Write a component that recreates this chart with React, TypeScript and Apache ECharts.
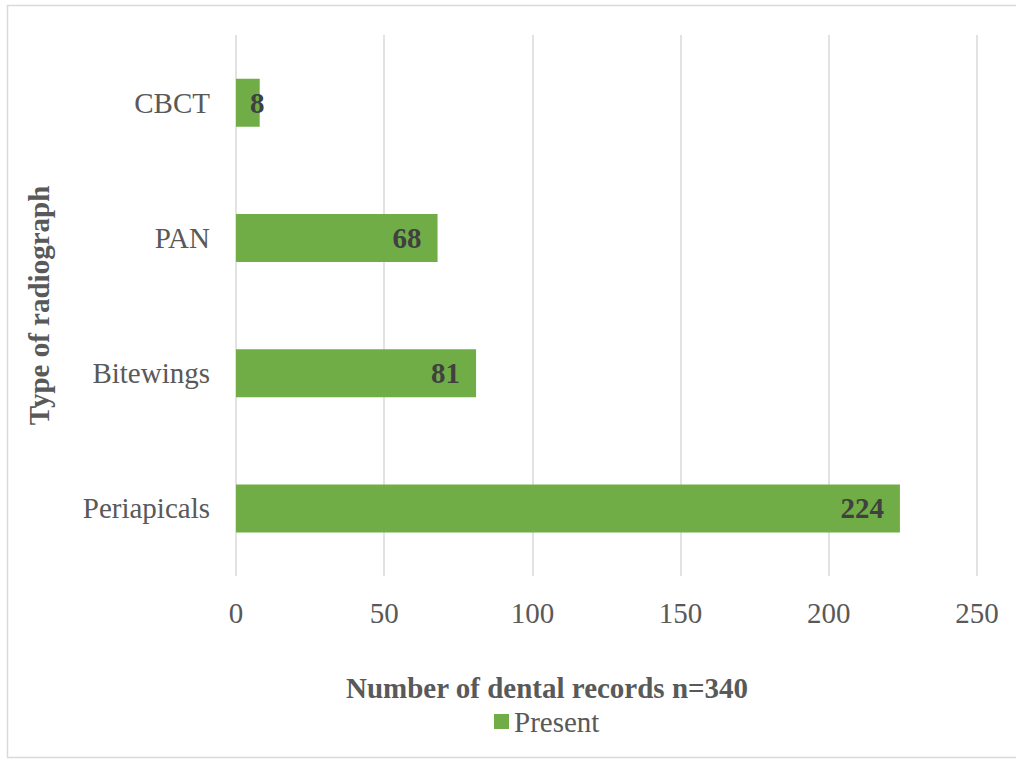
import React, { useEffect, useRef } from "react";
import * as echarts from "echarts";

const categories = ["Periapicals", "Bitewings", "PAN", "CBCT"];
const presentValues = [224, 81, 68, 8];
const xTicks = { min: 0, max: 250, interval: 50 };
const seriesName = "Present";
const xTitle = "Number of dental records n=340";
const yTitle = "Type of radiograph";

const FONT = "'Liberation Serif', 'Times New Roman', serif";

export default function App() {
  const ref = useRef<HTMLDivElement>(null);
  useEffect(() => {
    if (!ref.current) return;
    const chart = echarts.init(ref.current, null, { renderer: "svg" });
    chart.setOption({
      animation: false,
      backgroundColor: "#ffffff",
      textStyle: { fontFamily: FONT },
      graphic: [
        {
          type: "rect",
          shape: { x: 7.5, y: 5.5, width: 1040, height: 752 },
          style: { fill: "none", stroke: "#d9d9d9", lineWidth: 1.5 },
          silent: true,
        },
        {
          type: "text",
          x: 547,
          y: 688,
          style: {
            text: xTitle,
            fontFamily: FONT,
            fontSize: 29,
            fontWeight: "bold",
            fill: "#595959",
            align: "center",
            verticalAlign: "middle",
          },
          silent: true,
        },
      ],
      grid: { left: 236, right: 39, top: 35, bottom: 187, containLabel: false },
      legend: {
        bottom: 22,
        left: 489,
        itemWidth: 15,
        itemHeight: 15,
        itemGap: 6,
        icon: "rect",
        textStyle: { fontFamily: FONT, fontSize: 29, color: "#595959" },
        data: [seriesName],
      },
      xAxis: {
        type: "value",
        min: xTicks.min,
        max: xTicks.max,
        interval: xTicks.interval,
        axisLine: { show: false },
        axisTick: { show: false },
        axisLabel: { fontFamily: FONT, fontSize: 29, color: "#595959", margin: 22 },
        splitLine: { show: true, lineStyle: { color: "#d9d9d9", width: 1.5 } },
      },
      yAxis: {
        type: "category",
        data: categories,
        name: yTitle,
        nameLocation: "middle",
        nameGap: 183,
        nameRotate: 90,
        nameTextStyle: { fontFamily: FONT, fontSize: 29, fontWeight: "bold", color: "#595959" },
        axisLine: { show: false },
        axisTick: { show: false },
        axisLabel: { fontFamily: FONT, fontSize: 29, color: "#595959", margin: 26 },
        splitLine: { show: false },
      },
      series: [
        {
          name: seriesName,
          type: "bar",
          barWidth: 48,
          itemStyle: { color: "#70ad47" },
          label: {
            show: true,
            position: "insideRight",
            distance: 16,
            fontFamily: FONT,
            fontSize: 29,
            fontWeight: "bold",
            color: "#404040",
          },
          data: presentValues.map((v) =>
            v < 20
              ? { value: v, label: { position: "insideLeft", distance: 14 } }
              : v
          ),
        },
      ],
    });
    return () => chart.dispose();
  }, []);
  return (
    <div
      ref={ref}
      style={{ position: "absolute", left: 0, top: 0, width: 1016, height: 763 }}
    />
  );
}
